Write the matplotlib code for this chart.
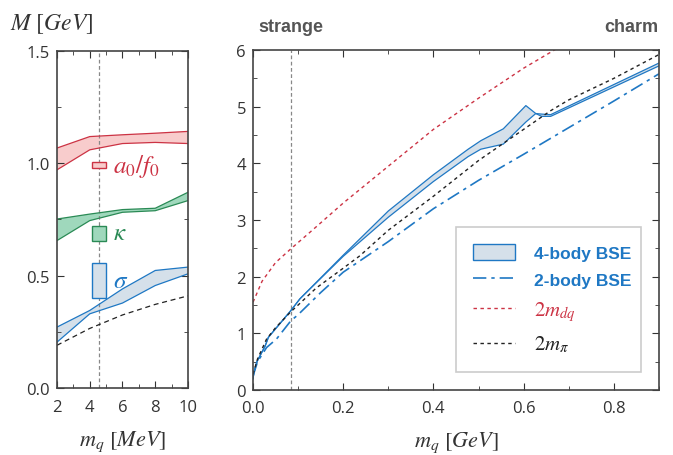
import numpy as np
import matplotlib
matplotlib.use('Agg')
import matplotlib.pyplot as plt
from matplotlib.patches import Patch
from matplotlib.lines import Line2D
from matplotlib.ticker import MultipleLocator

plt.rcParams['font.family'] = ['Open Sans', 'DejaVu Sans']
plt.rcParams['mathtext.fontset'] = 'stix'

# ---- left panel data (m_q in MeV) ----
mq_mev = [2, 4, 6, 8, 10]
a0_hi = [1.068, 1.119, 1.127, 1.134, 1.142]
a0_lo = [0.971, 1.060, 1.088, 1.093, 1.088]
kap_hi = [0.752, 0.774, 0.794, 0.800, 0.871]
kap_lo = [0.656, 0.745, 0.782, 0.789, 0.834]
sig_hi = [0.271, 0.345, 0.441, 0.523, 0.538]
sig_lo = [0.204, 0.330, 0.378, 0.456, 0.508]
pi2_left = [0.19, 0.265, 0.325, 0.372, 0.41]
phys_mq = 4.55
# experimental boxes: (low, high)
a0_box = (0.978, 1.007)
kap_box = (0.653, 0.723)
sig_box = (0.40, 0.555)

# ---- right panel data (m_q in GeV) ----
mq_band = [0.0, 0.002, 0.008, 0.027, 0.034, 0.0836, 0.104, 0.2, 0.3, 0.4, 0.477, 0.505, 0.555, 0.605, 0.627, 0.64, 0.66, 0.9]
band_hi = [0.2, 0.31, 0.49, 0.78, 0.93, 1.40, 1.61, 2.38, 3.16, 3.80, 4.25, 4.40, 4.61, 5.02, 4.88, 4.87, 4.86, 5.77]
band_lo = [0.2, 0.31, 0.49, 0.78, 0.93, 1.40, 1.61, 2.36, 3.05, 3.68, 4.12, 4.25, 4.34, 4.73, 4.88, 4.83, 4.83, 5.72]

mq_2b = [0.0, 0.01, 0.03, 0.052, 0.0836, 0.1, 0.15, 0.2, 0.3, 0.4, 0.5, 0.6, 0.7, 0.8, 0.9]
bse2 = [0.25, 0.5, 0.75, 0.90, 1.22, 1.33, 1.72, 2.08, 2.62, 3.2, 3.7, 4.16, 4.63, 5.10, 5.58]

mq_dq = [0.0, 0.02, 0.05, 0.0836, 0.14, 0.2, 0.3, 0.4, 0.5, 0.6, 0.7]
dq2 = [1.55, 1.92, 2.25, 2.49, 2.88, 3.3, 3.95, 4.6, 5.15, 5.68, 6.15]

mq_pi = [0.0, 0.01, 0.03, 0.05, 0.0836, 0.1, 0.14, 0.2, 0.237, 0.3, 0.4, 0.5, 0.6, 0.66, 0.7, 0.8, 0.9]
pi2 = [0.28, 0.55, 0.9, 1.1, 1.38, 1.5, 1.8, 2.15, 2.37, 2.82, 3.42, 4.05, 4.6, 4.93, 5.12, 5.5, 5.92]
strange_mq = 0.0836

red = '#cc3344'
red_fill = '#f8cccc'
green = '#2a8a55'
green_fill = '#9fd8bc'
blue = '#1f78c4'
blue_fill = '#d5e0ea'
grey_txt = '#555555'

fig = plt.figure(figsize=(6.73, 4.56), dpi=100)
ax1 = fig.add_axes([0.0847, 0.147, 0.1946, 0.739])
ax2 = fig.add_axes([0.376, 0.1425, 0.603, 0.7455])

for ax in (ax1, ax2):
    ax.tick_params(which='both', direction='in', top=True, right=True, colors='#333333', labelsize=12)
    ax.tick_params(which='major', length=5, pad=5)
    ax.tick_params(which='minor', length=3)
    for s in ax.spines.values():
        s.set_color('#444444')
        s.set_linewidth(1.2)

# left panel
ax1.fill_between(mq_mev, a0_lo, a0_hi, facecolor=red_fill, edgecolor='none')
ax1.plot(mq_mev, a0_hi, color=red, lw=0.9)
ax1.plot(mq_mev, a0_lo, color=red, lw=0.9)
ax1.fill_between(mq_mev, kap_lo, kap_hi, facecolor=green_fill, edgecolor='none')
ax1.plot(mq_mev, kap_hi, color=green, lw=0.9)
ax1.plot(mq_mev, kap_lo, color=green, lw=0.9)
ax1.fill_between(mq_mev, sig_lo, sig_hi, facecolor=blue_fill, edgecolor='none')
ax1.plot(mq_mev, sig_hi, color=blue, lw=0.9)
ax1.plot(mq_mev, sig_lo, color=blue, lw=0.9)
ax1.plot(mq_mev, pi2_left, color='#222222', lw=0.9, ls=(0, (4, 3)))
ax1.axvline(phys_mq, color='#888888', lw=0.9, ls=(0, (3, 2)), zorder=1)

bw = 0.84
for (lo, hi), ec, fc in [(a0_box, red, red_fill), (kap_box, green, green_fill), (sig_box, blue, blue_fill)]:
    ax1.add_patch(plt.Rectangle((phys_mq - bw / 2, lo), bw, hi - lo, facecolor=fc, edgecolor=ec, lw=1.0, zorder=3))
ax1.text(5.45, 0.99, r'$a_0/f_0$', color=red, fontsize=18, va='center')
ax1.text(5.45, 0.69, r'$\kappa$', color=green, fontsize=18, va='center')
ax1.text(5.45, 0.478, r'$\sigma$', color=blue, fontsize=18, va='center')

ax1.set_xlim(2, 10)
ax1.set_ylim(0, 1.5)
ax1.xaxis.set_major_locator(MultipleLocator(2))
ax1.xaxis.set_minor_locator(MultipleLocator(1))
ax1.yaxis.set_minor_locator(MultipleLocator(0.25))
ax1.set_yticks([0, 0.5, 1.0, 1.5])
ax1.set_yticklabels(['0.0', '0.5', '1.0', '1.5'])
ax1.tick_params(axis='x', which='major', pad=8)
ax1.set_xlabel(r'$m_q\ [MeV]$', fontsize=16, color='#333333', labelpad=10)
fig.text(0.015, 0.948, r'$M\ [GeV]$', fontsize=17, color='#333333', va='center')

# right panel
ax2.fill_between(mq_band, band_lo, band_hi, facecolor=blue_fill, edgecolor='none')
ax2.plot(mq_band, band_hi, color=blue, lw=0.9)
ax2.plot(mq_band, band_lo, color=blue, lw=0.9)
ax2.plot(mq_2b, bse2, color=blue, lw=1.2, ls=(0, (8, 3, 2, 3)))
ax2.plot(mq_dq, dq2, color=red, lw=1.0, ls=(0, (2.5, 2.5)))
ax2.plot(mq_pi, pi2, color='#222222', lw=1.0, ls=(0, (2.5, 2.5)))
ax2.axvline(strange_mq, color='#888888', lw=0.9, ls=(0, (3, 2)), zorder=1)

ax2.set_xlim(0, 0.9)
ax2.set_ylim(0, 6)
ax2.xaxis.set_minor_locator(MultipleLocator(0.1))
ax2.yaxis.set_major_locator(MultipleLocator(1))
ax2.yaxis.set_minor_locator(MultipleLocator(0.5))
ax2.set_xticks([0, 0.2, 0.4, 0.6, 0.8])
ax2.set_xticklabels(['0.0', '0.2', '0.4', '0.6', '0.8'])
ax2.tick_params(axis='x', which='major', pad=7)
ax2.set_xlabel(r'$m_q\ [GeV]$', fontsize=16, color='#333333', labelpad=10)

ax2.text(strange_mq, 1.045, 'strange', transform=ax2.get_xaxis_transform(), ha='center', va='bottom',
         fontsize=13, fontweight='bold', color=grey_txt, family='Liberation Sans')
ax2.text(1.0, 1.045, 'charm', transform=ax2.transAxes, ha='right', va='bottom',
         fontsize=13, fontweight='bold', color=grey_txt, family='Liberation Sans')

handles = [
    Patch(facecolor=blue_fill, edgecolor=blue, lw=1.0),
    Line2D([], [], color=blue, lw=1.2, ls=(0, (8, 3, 2, 3))),
    Line2D([], [], color=red, lw=1.0, ls=(0, (2.5, 2.5))),
    Line2D([], [], color='#222222', lw=1.0, ls=(0, (2.5, 2.5))),
]
labels = ['4-body BSE', '2-body BSE', r'$2m_{dq}$', r'$2m_{\pi}$']
leg = ax2.legend(handles, labels, loc='lower left', bbox_to_anchor=(0.5, 0.053, 0.456, 0.421), mode='expand',
                 borderaxespad=0, fancybox=False, framealpha=1, edgecolor='#cccccc', borderpad=1.0,
                 labelspacing=0.62, handlelength=2.4, handleheight=1.0, handletextpad=1.1, fontsize=12.5)
leg.get_frame().set_linewidth(1.2)
for t, c in zip(leg.get_texts(), [blue, blue, red, '#222222']):
    t.set_color(c)
for t in leg.get_texts()[:2]:
    t.set_fontweight('bold')
    t.set_family('Liberation Sans')
for t in leg.get_texts()[2:]:
    t.set_fontsize(15)

fig.savefig('out.png', dpi=100)
